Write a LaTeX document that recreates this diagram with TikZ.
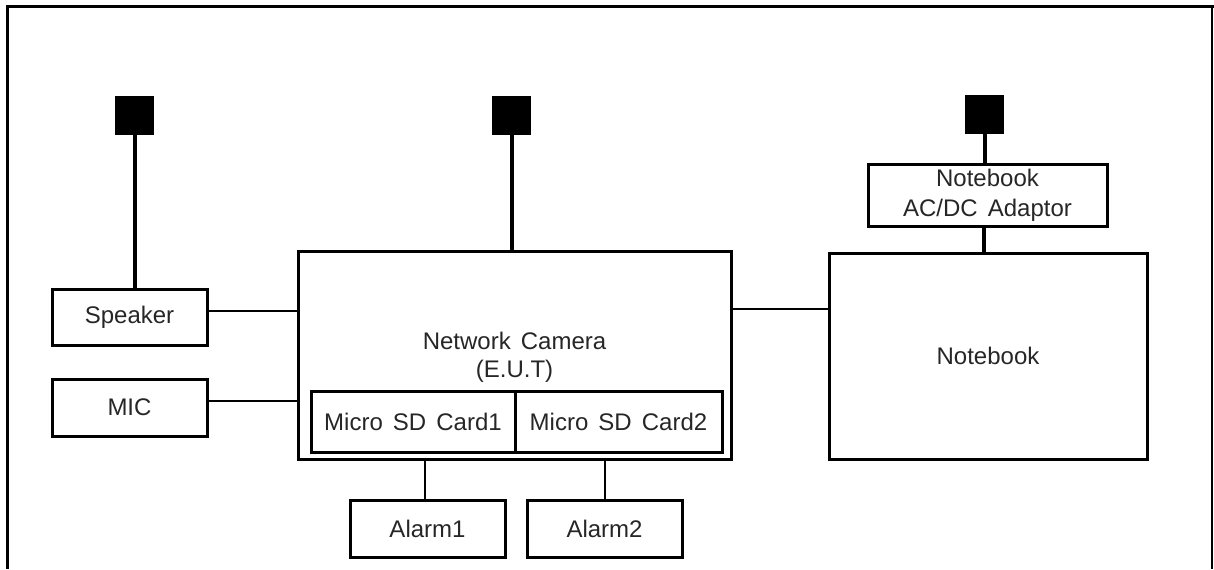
\documentclass[tikz,border=0pt]{standalone}
\usepackage{fontspec}
\setmainfont{Liberation Sans}
\newcommand{\wsp}{\hspace{0.42em}}
\begin{document}
\begin{tikzpicture}[x=0.5pt,y=-0.5pt,
  box/.style={draw, line width=1.5pt, rectangle, inner sep=0pt, align=center,
    font=\fontsize{12}{14}\selectfont, text=black!85},
  plug/.style={fill=black, draw=none, rectangle, minimum width=19.5pt, minimum height=19.5pt, inner sep=0pt},
  power/.style={line width=2pt},
  wire/.style={line width=1pt}]
\useasboundingbox (0,0) rectangle (1214,569);
% outer frame
\draw[line width=1.5pt] (7,569) -- (7,6) -- (1214,6);
\draw[line width=0.6pt] (1212,6) -- (1212,569);
% plugs
\node[plug] (p1) at (134.5,115.5) {};
\node[plug] (p2) at (511.5,115.5) {};
\node[plug] (p3) at (984.5,114) {};
% boxes
\node[box, minimum width=77.5pt, minimum height=28pt] (spk) at (129.5,317) {Speaker};
\node[box, minimum width=77.5pt, minimum height=28.5pt] (mic) at (129.5,407.5) {MIC};
\node[box, minimum width=216.5pt, minimum height=104pt] (cam) at (514.5,355) {};
\node[align=center, font=\fontsize{12}{14}\selectfont, text=black!85] (camt) at (514.5,357) {Network\wsp Camera\\(E.U.T)};
\node[box, minimum width=102pt, minimum height=30.5pt] (sd1) at (413,421.5) {Micro\wsp SD\wsp Card1};
\node[box, minimum width=103.5pt, minimum height=30.5pt] (sd2) at (618.5,421.5) {Micro\wsp SD\wsp Card2};
\node[box, minimum width=77.5pt, minimum height=28.5pt] (al1) at (427.5,528.5) {Alarm1};
\node[box, minimum width=77.5pt, minimum height=28.5pt] (al2) at (604.5,528.5) {Alarm2};
\node[box, minimum width=159pt, minimum height=103pt] (nb) at (988,356) {Notebook};
\node[box, minimum width=119.5pt, minimum height=31pt, font=\fontsize{12}{15}\selectfont] (ad) at (987.5,195) {Notebook\\AC/DC\wsp Adaptor};
% power lines
\draw[power] (p1.south) -- (p1.south |- spk.north);
\draw[power] (p2.south) -- (p2.south |- cam.north);
\draw[power] (p3.south) -- (p3.south |- ad.north);
\draw[power] ([xshift=-2pt]ad.south) -- ([xshift=-2pt]ad.south |- nb.north);
% wires
\draw[wire] ([yshift=3pt]spk.east) -- ([yshift=3pt]spk.east -| cam.west);
\draw[wire] ([yshift=3.25pt]mic.east) -- ([yshift=3.25pt]mic.east -| cam.west);
\draw[wire] ([xshift=-1.25pt]al1.north) -- ([xshift=-1.25pt]al1.north |- cam.south);
\draw[wire] (al2.north) -- (al2.north |- cam.south);
\draw[wire] ([yshift=23pt]cam.east) -- ([yshift=23pt]cam.east -| nb.west);
\end{tikzpicture}
\end{document}
